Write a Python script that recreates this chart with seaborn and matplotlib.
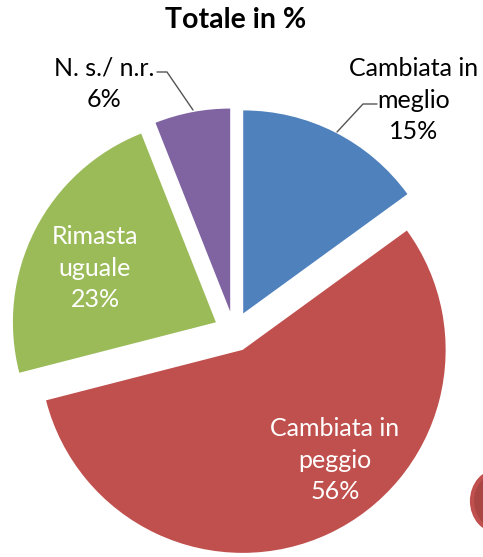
import matplotlib
matplotlib.use("Agg")
import matplotlib.pyplot as plt
import matplotlib.patches as mpatches
import seaborn as sns

# data
categories = ["Cambiata in meglio", "Cambiata in peggio", "Rimasta uguale", "N. s./ n.r."]
values = [15, 56, 23, 6]
pct_labels = ["15%", "56%", "23%", "6%"]
colors = ["#4F81BD", "#C0504D", "#9BBB59", "#8064A2"]

sns.set_theme(style="white")
plt.rcParams["font.family"] = ["Lato", "DejaVu Sans"]

W, H = 483, 557
CX, CY, R = 234.0, 331.5, 203.0  # pie centre / radius in pixels


def px(x, y):
    # pixel position -> data units (radius = 1)
    return (x - CX) / R, (CY - y) / R


fig = plt.figure(figsize=(W / 100, H / 100), dpi=100)
ax = fig.add_axes([0, 0, 1, 1])

palette = sns.color_palette(colors)
ax.pie(values, colors=palette, startangle=90, counterclock=False,
       explode=[0.1] * len(values), radius=1.0, center=(0, 0),
       wedgeprops=dict(linewidth=0))

ax.set_xlim(px(0, 0)[0], px(W, 0)[0])
ax.set_ylim(px(0, H)[1], px(0, 0)[1])
ax.set_aspect("auto")
ax.axis("off")

# title
fig.text(236 / W, 1 - 20 / H, "Totale in %", ha="center", va="center",
         fontsize=20.5, fontweight="bold", color="#000000")

fs = 18
ls = 1.45
# outside labels with leader lines
ax.text(*px(414, 100), "Cambiata in\nmeglio\n" + pct_labels[0], ha="center", va="center",
        fontsize=fs, color="#000000", linespacing=ls)
lx, ly = zip(px(377, 104), px(363, 104), px(337, 132))
ax.plot(lx, ly, color="#555555", lw=1)

ax.text(*px(104, 84), categories[3] + "\n" + pct_labels[3], ha="center", va="center",
        fontsize=fs, color="#000000", linespacing=ls)
lx, ly = zip(px(157, 72), px(167, 72), px(193, 110))
ax.plot(lx, ly, color="#555555", lw=1)

# inside labels
ax.text(*px(95, 268), "Rimasta\nuguale\n" + pct_labels[2], ha="center", va="center",
        fontsize=fs, color="white", linespacing=ls)
ax.text(*px(335, 460), "Cambiata in\npeggio\n" + pct_labels[1], ha="center", va="center",
        fontsize=fs, color="white", linespacing=ls)

# fragment of a neighbouring chart at the bottom-right edge
cx, cy = px(498, 501)
ax.add_patch(mpatches.Ellipse((cx, cy), 52 / R, 60 / R, facecolor="#A94643",
                              edgecolor="#C0504D", linewidth=3))

fig.savefig("out.png", dpi=100)
